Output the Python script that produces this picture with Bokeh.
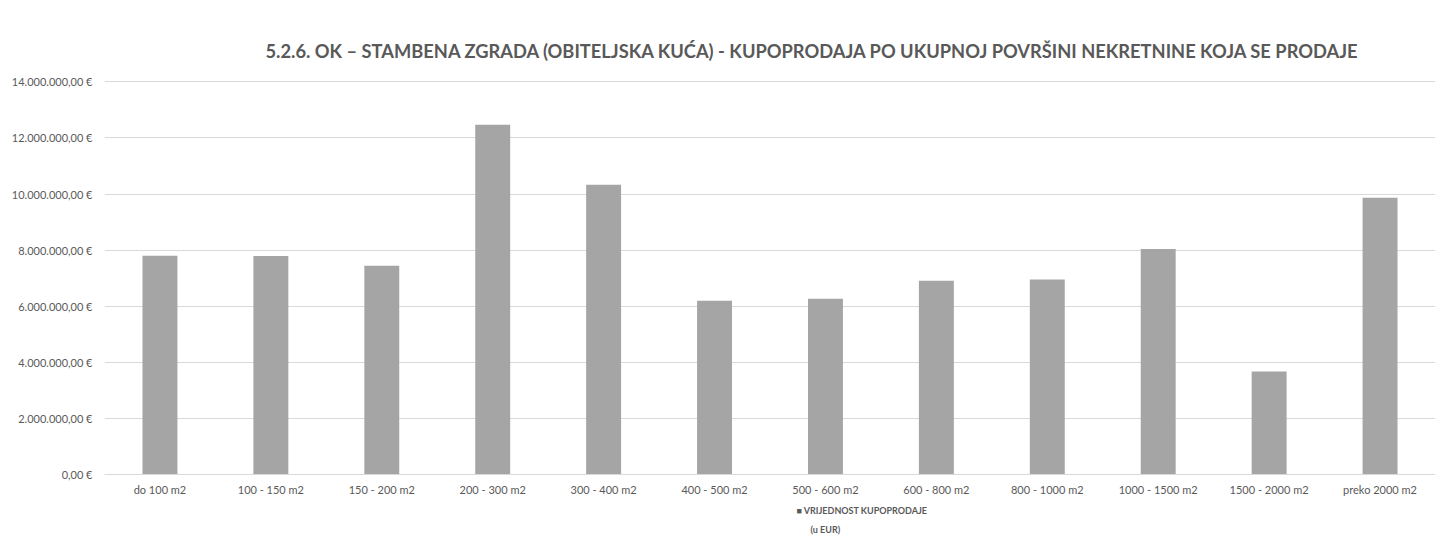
from bokeh.plotting import figure
from bokeh.models import (FactorRange, Range1d, FixedTicker, Title, ColumnDataSource)
from bokeh.embed import file_html
from bokeh.resources import INLINE

categories = ["do 100 m2", "100 - 150 m2", "150 - 200 m2", "200 - 300 m2", "300 - 400 m2",
              "400 - 500 m2", "500 - 600 m2", "600 - 800 m2", "800 - 1000 m2",
              "1000 - 1500 m2", "1500 - 2000 m2", "preko 2000 m2"]
values = [7800000, 7790000, 7440000, 12470000, 10330000, 6200000, 6270000, 6910000,
          6950000, 8040000, 3670000, 9870000]
y_ticks = [0, 2000000, 4000000, 6000000, 8000000, 10000000, 12000000, 14000000]
y_tick_labels = ["0,00 €", "2.000.000,00 €", "4.000.000,00 €", "6.000.000,00 €",
                 "8.000.000,00 €", "10.000.000,00 €", "12.000.000,00 €", "14.000.000,00 €"]
title_text = "5.2.6. OK – STAMBENA ZGRADA (OBITELJSKA KUĆA) - KUPOPRODAJA PO UKUPNOJ POVRŠINI NEKRETNINE KOJA SE PRODAJE"
series_name = "VRIJEDNOST KUPOPRODAJE"
series_unit = "(u EUR)"

FONT = "Lato"
TXT = "#595959"
GRID = "#d9d9d9"
BAR = "#a5a5a5"

W, H = 1435, 538
p = figure(width=W, height=H, x_range=FactorRange(*categories, range_padding=0),
           y_range=Range1d(0, 14050000), output_backend="svg", toolbar_location=None,
           min_border_left=104, min_border_right=0, min_border_top=80, min_border_bottom=64)
p.outline_line_color = None
p.background_fill_color = "white"
p.border_fill_color = "white"

src = ColumnDataSource(dict(cat=categories, val=values))
r = p.vbar(x="cat", top="val", width=0.315, source=src, fill_color=BAR, line_color=None)

p.xgrid.grid_line_color = None
p.ygrid.grid_line_color = GRID
p.ygrid.grid_line_width = 1

p.yaxis.ticker = FixedTicker(ticks=y_ticks)
p.yaxis.major_label_overrides = {t: l for t, l in zip(y_ticks, y_tick_labels)}
p.yaxis.axis_line_color = None
p.yaxis.major_tick_line_color = None
p.yaxis.minor_tick_line_color = None
p.yaxis.major_tick_out = 0
p.yaxis.major_tick_in = 0
p.yaxis.major_label_standoff = 12
p.yaxis.major_label_text_font = FONT
p.yaxis.major_label_text_font_size = "11px"
p.yaxis.major_label_text_color = TXT

p.xaxis.axis_line_color = GRID
p.xaxis.major_tick_line_color = None
p.xaxis.minor_tick_line_color = None
p.xaxis.major_tick_out = 0
p.xaxis.major_tick_in = 0
p.xaxis.major_label_standoff = 8
p.xaxis.major_label_text_font = FONT
p.xaxis.major_label_text_font_size = "11px"
p.xaxis.major_label_text_color = TXT

p.add_layout(Title(text=title_text, align="left", offset=161, standoff=38,
                   text_font=FONT, text_font_style="bold", text_font_size="18.3px",
                   text_color=TXT), "above")

# legend entry (marker + two-line label) placed under the category axis
p.add_layout(Title(text="■ " + series_name, align="left", offset=692, standoff=12,
                   vertical_align="top", text_font=FONT, text_font_style="bold",
                   text_font_size="9px", text_color=TXT), "below")
p.add_layout(Title(text=series_unit, align="left", offset=706, standoff=1,
                   vertical_align="top", text_font=FONT, text_font_style="bold",
                   text_font_size="9px", text_color=TXT), "below")

open("out.html", "w").write(file_html(p, INLINE))
